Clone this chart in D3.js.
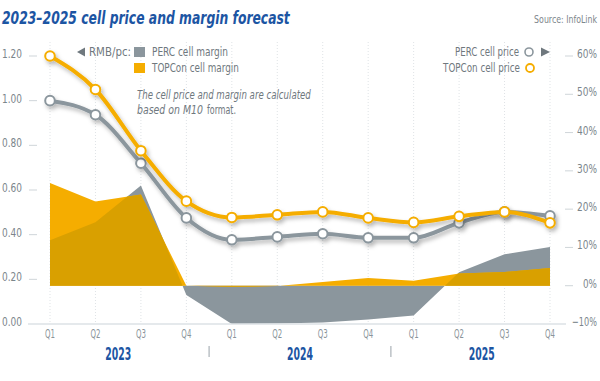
<!DOCTYPE html>
<html>
<head>
<meta charset="utf-8">
<script src="https://cdn.jsdelivr.net/npm/d3@7"></script>
<style>
  body { margin: 0; background: #fff; }
  svg text { font-family: "Liberation Sans Narrow", "DejaVu Sans Condensed", "Noto Sans", sans-serif; }
</style>
</head>
<body>
<div id="chart"></div>
<script>
// chart data
var quarters = ["Q1", "Q2", "Q3", "Q4", "Q1", "Q2", "Q3", "Q4", "Q1", "Q2", "Q3", "Q4"];
var years = ["2023", "2024", "2025"];
var percPrice = [1.00, 0.937, 0.72, 0.475, 0.377, 0.39, 0.404, 0.386, 0.386, 0.453, 0.502, 0.484];
var topconPrice = [1.20, 1.05, 0.776, 0.55, 0.477, 0.489, 0.502, 0.475, 0.455, 0.482, 0.502, 0.453];
var percMargin = [11.9, 16.6, 26.2, -2.4, -10, -9.9, -9.6, -8.8, -7.8, 3.5, 8.2, 10.1];
var topconMargin = [26.8, 22, 23.8, 0, -0.3, -0.1, 1.0, 2.0, 1.3, 3.2, 3.6, 4.6];
var leftTicks = [0, 0.2, 0.4, 0.6, 0.8, 1.0, 1.2];
var rightTicks = [-10, 0, 10, 20, 30, 40, 50, 60];

var width = 600, height = 381;
var yellow = "#f5ad00", gray = "#8b969d", gold = "#d9a000", blue = "#1c55a3";
var textGray = "#6f787e";

var svg = d3.select("#chart").append("svg")
    .attr("width", width)
    .attr("height", height);

// squeeze a text horizontally to the width it has in the picture (condensed face)
function fit(sel, w) {
  sel.each(function(d, i) {
    var target = typeof w === "function" ? w(d, i) : w;
    var k = target / this.getComputedTextLength();
    var x0 = +this.getAttribute("x"), y0 = +this.getAttribute("y");
    d3.select(this).attr("transform",
      "translate(" + x0 + "," + y0 + ") scale(" + k + ",1) translate(" + (-x0) + "," + (-y0) + ")");
  });
  return sel;
}

var defs = svg.append("defs");
var shadow = defs.append("filter").attr("id", "shadow")
    .attr("x", "-10%").attr("y", "-10%").attr("width", "130%").attr("height", "140%");
shadow.append("feDropShadow")
    .attr("dx", 2).attr("dy", 3).attr("stdDeviation", 2)
    .attr("flood-color", "#000").attr("flood-opacity", 0.28);

var idx = d3.range(quarters.length);

var x = d3.scalePoint().domain(idx).range([50, 550]);
var yL = d3.scaleLinear().domain([0, 1.2]).range([324, 56]);
var yR = d3.scaleLinear().domain([-10, 60]).range([324, 56]);

// title
fit(svg.append("text")
    .attr("x", 2).attr("y", 24)
    .style("font-size", "18px").style("font-weight", "bold").style("font-style", "italic")
    .style("fill", blue)
    .text("2023\u20132025 cell price and margin forecast"), 288);

fit(svg.append("text")
    .attr("x", 597).attr("y", 23)
    .attr("text-anchor", "end")
    .style("font-size", "11px").style("fill", "#7d868c")
    .text("Source: InfoLink"), 63);

// vertical dotted grid
svg.append("g").selectAll("line")
    .data(idx)
    .enter().append("line")
    .attr("x1", function(d) { return x(d); })
    .attr("x2", function(d) { return x(d); })
    .attr("y1", 42).attr("y2", 324)
    .attr("stroke", "#dfe3e6")
    .attr("stroke-dasharray", "1,2");

// margin areas
var areaP = d3.area()
    .x(function(d) { return x(d); })
    .y0(yR(0))
    .y1(function(d) { return yR(percMargin[d]); });
var areaT = d3.area()
    .x(function(d) { return x(d); })
    .y0(yR(0))
    .y1(function(d) { return yR(topconMargin[d]); });

defs.append("clipPath").attr("id", "percClip")
    .append("path").attr("d", areaP(idx));

svg.append("path").attr("d", areaP(idx)).attr("fill", gray);
svg.append("path").attr("d", areaT(idx)).attr("fill", yellow);
svg.append("path").attr("d", areaT(idx)).attr("fill", gold).attr("clip-path", "url(#percClip)");

// bottom axis line
svg.append("line")
    .attr("x1", 28).attr("x2", 566)
    .attr("y1", 324).attr("y2", 324)
    .attr("stroke", "#dde2e6").attr("stroke-width", 1.5);

// left axis
var gL = svg.append("g").selectAll("g")
    .data(leftTicks)
    .enter().append("g");
gL.filter(function(d) { return d > 0; }).append("line")
    .attr("x1", 29).attr("x2", 37)
    .attr("y1", function(d) { return yL(d); })
    .attr("y2", function(d) { return yL(d); })
    .attr("stroke", "#cfd5d9");
fit(gL.append("text")
    .attr("x", 22)
    .attr("y", function(d) { return yL(d) + 2; })
    .attr("text-anchor", "end")
    .style("font-size", "12.5px").style("fill", "#7b858b")
    .text(function(d) { return d.toFixed(2); }), 20);

// right axis
var gR = svg.append("g").selectAll("g")
    .data(rightTicks)
    .enter().append("g");
gR.filter(function(d) { return d > -10; }).append("line")
    .attr("x1", 565).attr("x2", 573)
    .attr("y1", function(d) { return yR(d); })
    .attr("y2", function(d) { return yR(d); })
    .attr("stroke", "#cfd5d9");
fit(gR.append("text")
    .attr("x", 597)
    .attr("y", function(d) { return yR(d) + 2; })
    .attr("text-anchor", "end")
    .style("font-size", "12.5px").style("fill", "#7b858b")
    .text(function(d) { return (d < 0 ? "\u2212" : "") + Math.abs(d) + "%"; }),
    function(d) { return d < 0 ? 25 : (d === 0 ? 14 : 20); });

// price lines
function priceLine(values, color) {
  var line = d3.line()
      .x(function(d) { return x(d); })
      .y(function(d) { return yL(values[d]); })
      .curve(d3.curveMonotoneX);
  var g = svg.append("g").attr("filter", "url(#shadow)");
  g.append("path")
      .attr("d", line(idx))
      .attr("fill", "none")
      .attr("stroke", color)
      .attr("stroke-width", 4)
      .attr("stroke-linejoin", "round");
  g.selectAll("circle")
      .data(idx)
      .enter().append("circle")
      .attr("cx", function(d) { return x(d); })
      .attr("cy", function(d) { return yL(values[d]); })
      .attr("r", 4.8)
      .attr("fill", "#fff")
      .attr("stroke", color)
      .attr("stroke-width", 2);
}
priceLine(percPrice, gray);
priceLine(topconPrice, yellow);

// quarter labels
fit(svg.append("g").selectAll("text")
    .data(idx)
    .enter().append("text")
    .attr("x", function(d) { return x(d); })
    .attr("y", 338)
    .attr("text-anchor", "middle")
    .style("font-size", "11.5px").style("fill", "#8a949a")
    .text(function(d) { return quarters[d]; }), 10);

// year labels and separators
fit(svg.append("g").selectAll("text")
    .data(years)
    .enter().append("text")
    .attr("x", function(d, i) { return (x(i * 4) + x(i * 4 + 3)) / 2; })
    .attr("y", 360)
    .attr("text-anchor", "middle")
    .style("font-size", "17px").style("font-weight", "bold").style("fill", blue)
    .text(function(d) { return d; }), 26);
svg.append("g").selectAll("line")
    .data([1, 2])
    .enter().append("line")
    .attr("x1", function(d) { return (x(d * 4 - 1) + x(d * 4)) / 2; })
    .attr("x2", function(d) { return (x(d * 4 - 1) + x(d * 4)) / 2; })
    .attr("y1", 346).attr("y2", 357)
    .attr("stroke", "#9aa3a9");

// left legend
svg.append("path").attr("d", "M77,52L85,47.5L85,56.5Z").attr("fill", textGray);
fit(svg.append("text")
    .attr("x", 89).attr("y", 56)
    .style("font-size", "13px").style("fill", textGray)
    .text("RMB/pc:"), 42);
svg.append("rect").attr("x", 134).attr("y", 47).attr("width", 11).attr("height", 10).attr("fill", gray);
svg.append("rect").attr("x", 134).attr("y", 63).attr("width", 11).attr("height", 10).attr("fill", yellow);
fit(svg.append("text").attr("x", 152).attr("y", 56)
    .style("font-size", "13px").style("fill", textGray).text("PERC cell margin"), 76);
fit(svg.append("text").attr("x", 152).attr("y", 72)
    .style("font-size", "13px").style("fill", textGray).text("TOPCon cell margin"), 87);

fit(svg.append("text").attr("x", 137).attr("y", 99)
    .style("font-size", "13px").style("fill", textGray).style("font-style", "italic")
    .text("The cell price and margin are calculated"), 174);
fit(svg.append("text").attr("x", 137).attr("y", 114)
    .style("font-size", "13px").style("fill", textGray).style("font-style", "italic")
    .text("based on M10"), 66);
fit(svg.append("text").attr("x", 207).attr("y", 114)
    .style("font-size", "13px").style("fill", textGray)
    .text("format."), 29);

// right legend
fit(svg.append("text").attr("x", 519).attr("y", 56).attr("text-anchor", "end")
    .style("font-size", "13px").style("fill", textGray).text("PERC cell price"), 64);
fit(svg.append("text").attr("x", 520).attr("y", 72).attr("text-anchor", "end")
    .style("font-size", "13px").style("fill", textGray).text("TOPCon cell price"), 77);
svg.append("circle").attr("cx", 529).attr("cy", 52).attr("r", 4)
    .attr("fill", "#fff").attr("stroke", gray).attr("stroke-width", 1.6);
svg.append("circle").attr("cx", 530).attr("cy", 68).attr("r", 4)
    .attr("fill", "#fff").attr("stroke", yellow).attr("stroke-width", 1.8);
svg.append("path").attr("d", "M550,52L541,47.5L541,56.5Z").attr("fill", textGray);
</script>
</body>
</html>
